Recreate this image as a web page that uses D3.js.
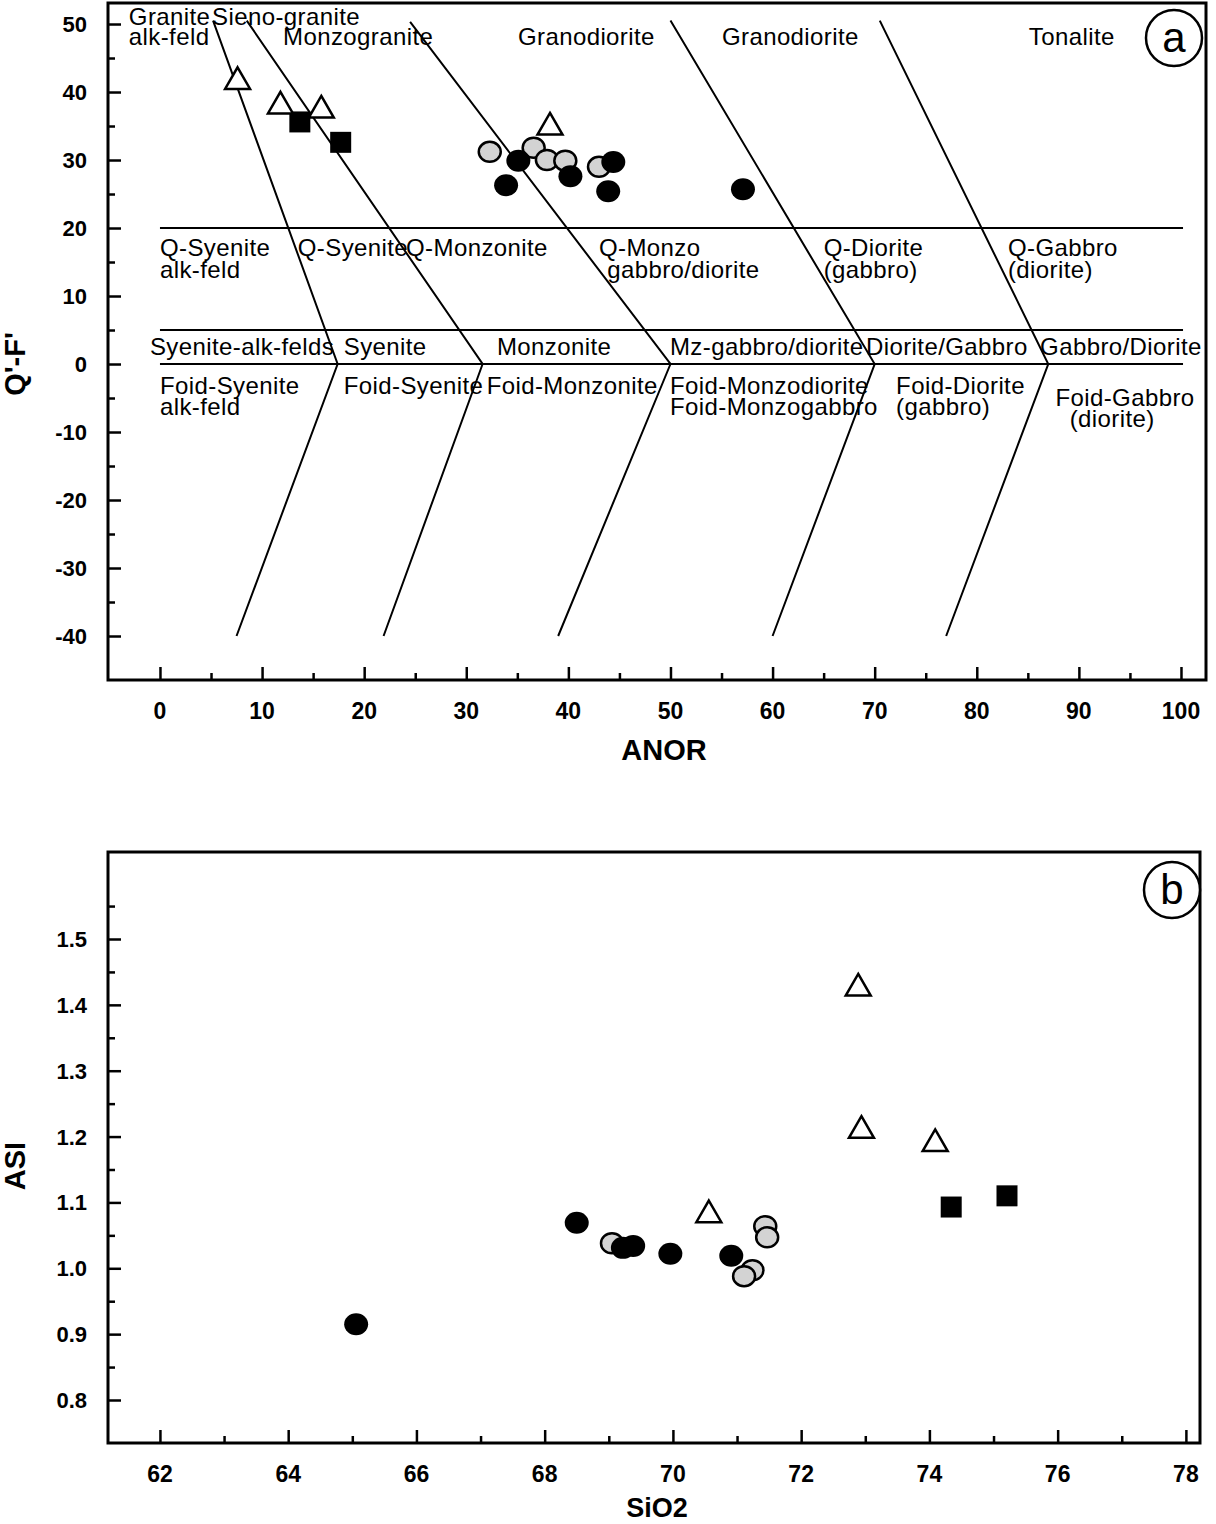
<!DOCTYPE html>
<html>
<head>
<meta charset="utf-8">
<script src="https://cdn.jsdelivr.net/npm/d3@7"></script>
<style>
  body{margin:0;background:#fff;}
  svg{display:block;font-family:"Liberation Sans",Arial,sans-serif;}
</style>
</head>
<body>
<svg id="chart" width="1216" height="1524"></svg>
<script>
// panel a: ANOR vs Q'-F'
var triA = [[7.6,41.8],[11.8,38.2],[15.8,37.6],[38.2,35.1]];
var sqA = [[13.7,35.6],[17.7,32.6]];
var grayA = [[32.3,31.2],[36.6,31.8],[37.9,30.0],[39.7,29.9],[43.0,29.0]];
var blackA = [[33.9,26.3],[35.1,29.9],[40.2,27.6],[43.9,25.4],[44.4,29.7],[57.1,25.7]];

// field boundaries (top, bend, bottom)
var bounds = [
  [[5.2,50.5],[17.4,0],[7.5,-40]],
  [[8.5,50.5],[31.6,0],[21.9,-40]],
  [[24.5,50.3],[50,0],[39,-40]],
  [[50,50.5],[70,0],[60,-40]],
  [[70.5,50.5],[87,0],[77,-40]]
];
var hLines = [20,5,0];

var fieldLabels = [
  [-3.05,49.9,"Granite"],[5.1,49.9,"Sieno-granite"],
  [-3.05,46.9,"alk-feld"],[12.05,46.9,"Monzogranite"],
  [35.06,46.9,"Granodiorite"],[55.04,46.9,"Granodiorite"],[85.1,46.9,"Tonalite"],
  [0,15.9,"Q-Syenite"],[0,12.7,"alk-feld"],[13.5,15.9,"Q-Syenite"],
  [24.1,15.9,"Q-Monzonite"],[43,15.9,"Q-Monzo"],[43.8,12.7,"gabbro/diorite"],
  [65,15.9,"Q-Diorite"],[65,12.7,"(gabbro)"],[83.05,15.9,"Q-Gabbro"],[83.05,12.7,"(diorite)"],
  [-0.98,1.3,"Syenite-alk-felds"],[18,1.3,"Syenite"],[33,1.3,"Monzonite"],
  [49.95,1.3,"Mz-gabbro/diorite"],[69.15,1.3,"Diorite/Gabbro"],[86.2,1.3,"Gabbro/Diorite"],
  [0,-4.4,"Foid-Syenite"],[0,-7.5,"alk-feld"],[18,-4.4,"Foid-Syenite"],
  [32,-4.4,"Foid-Monzonite"],[49.95,-4.4,"Foid-Monzodiorite"],[49.95,-7.5,"Foid-Monzogabbro"],
  [72.1,-4.4,"Foid-Diorite"],[72.1,-7.5,"(gabbro)"],[87.7,-6.2,"Foid-Gabbro"],[89.1,-9.3,"(diorite)"]
];

// panel b: SiO2 vs ASI
var triB = [[70.56,1.084],[72.89,1.428],[72.94,1.212],[74.09,1.192]];
var sqB = [[74.34,1.093],[75.21,1.110]];
var grayB = [[69.05,1.038],[71.44,1.064],[71.47,1.047],[71.24,0.997],[71.11,0.988]];
var blackB = [[65.06,0.915],[68.5,1.069],[69.22,1.031],[69.38,1.034],[69.96,1.022],[70.91,1.019]];

var ticksAx = d3.range(0,101,10), ticksAy = d3.range(-40,51,10);
var ticksBx = d3.range(62,79,2), ticksBy = [0.8,0.9,1.0,1.1,1.2,1.3,1.4,1.5];

var svg = d3.select("#chart");

function panel(box, xDom, yDom, xt, xm, yt, ym, xFmt, yFmt, xTitle, yTitle, tag, opt){
  var g = svg.append("g");
  var x = d3.scaleLinear().domain(xDom).range([box.l, box.r]);
  var y = d3.scaleLinear().domain(yDom).range([box.b, box.t]);

  g.append("rect").attr("x",box.l).attr("y",box.t)
    .attr("width",box.r-box.l).attr("height",box.b-box.t)
    .attr("fill","none").attr("stroke","#000").attr("stroke-width",3);

  var xAxis = d3.axisBottom(x).tickValues(xt).tickSize(-13).tickFormat("");
  var xMin = d3.axisBottom(x).tickValues(xm).tickSize(-7).tickFormat("");
  var yAxis = d3.axisLeft(y).tickValues(yt).tickSize(-13).tickFormat("");
  var yMin = d3.axisLeft(y).tickValues(ym).tickSize(-7).tickFormat("");
  [[xAxis,"translate(0,"+box.b+")"],[xMin,"translate(0,"+box.b+")"],
   [yAxis,"translate("+box.l+",0)"],[yMin,"translate("+box.l+",0)"]].forEach(function(a){
    var ag = g.append("g").attr("transform",a[1]).call(a[0]);
    ag.select(".domain").remove();
    ag.selectAll("line").attr("stroke","#000").attr("stroke-width",2.5);
  });

  g.selectAll(".xl").data(xt).enter().append("text")
    .attr("x",function(d){return x(d);}).attr("y",box.b+39)
    .attr("text-anchor","middle").attr("font-weight","bold").attr("font-size",23)
    .text(xFmt);
  g.selectAll(".yl").data(yt).enter().append("text")
    .attr("x",box.l-21).attr("y",function(d){return y(d)+8;})
    .attr("text-anchor","end").attr("font-weight","bold").attr("font-size",22)
    .text(yFmt);

  g.append("text").attr("x",opt.xtx).attr("y",box.b+opt.xty)
    .attr("text-anchor","middle").attr("font-weight","bold").attr("font-size",opt.xts)
    .text(xTitle);
  g.append("text").attr("transform","translate(25,"+opt.yty+") rotate(-90)")
    .attr("text-anchor","middle").attr("font-weight","bold").attr("font-size",29)
    .text(yTitle);

  g.append("circle").attr("cx",box.r-opt.tagdx).attr("cy",box.t+opt.tagdy).attr("r",28)
    .attr("fill","#fff").attr("stroke","#000").attr("stroke-width",2.5);
  g.append("text").attr("x",box.r-opt.tagdx).attr("y",box.t+opt.tagdy+14).attr("text-anchor","middle")
    .attr("font-size",42).text(tag);

  return {g:g,x:x,y:y};
}

function points(p, tri, sq, gray, black){
  var g = p.g, x = p.x, y = p.y;
  g.selectAll(".gray").data(gray).enter().append("ellipse")
    .attr("cx",function(d){return x(d[0]);}).attr("cy",function(d){return y(d[1]);})
    .attr("rx",11).attr("ry",10).attr("fill","#d3d3d3").attr("stroke","#000").attr("stroke-width",2.5);
  g.selectAll(".black").data(black).enter().append("ellipse")
    .attr("cx",function(d){return x(d[0]);}).attr("cy",function(d){return y(d[1]);})
    .attr("rx",12).attr("ry",11).attr("fill","#000");
  g.selectAll(".sq").data(sq).enter().append("path")
    .attr("transform",function(d){return "translate("+x(d[0])+","+y(d[1])+")";})
    .attr("d",d3.symbol().type(d3.symbolSquare).size(441)).attr("fill","#000");
  g.selectAll(".tri").data(tri).enter().append("path")
    .attr("transform",function(d){return "translate("+x(d[0])+","+(y(d[1])+2)+")";})
    .attr("d",d3.symbol().type(d3.symbolTriangle).size(270))
    .attr("fill","#fff").attr("stroke","#000").attr("stroke-width",2.5);
}

// ---- panel a
var pa = panel({l:108,r:1206,t:3,b:680},[-5.09,102.45],[-46.47,53.09],
  ticksAx, d3.range(5,100,10), ticksAy, d3.range(-35,50,10),
  function(d){return d;}, function(d){return d;}, "ANOR", "Q'-F'", "a",
  {xtx:664, xty:80, xts:29, yty:364, tagdx:32, tagdy:35});

var line = d3.line().x(function(d){return pa.x(d[0]);}).y(function(d){return pa.y(d[1]);});
pa.g.selectAll(".hl").data(hLines).enter().append("line")
  .attr("x1",pa.x(0)).attr("x2",pa.x(100.2))
  .attr("y1",function(d){return pa.y(d);}).attr("y2",function(d){return pa.y(d);})
  .attr("stroke","#000").attr("stroke-width",2);
pa.g.selectAll(".bd").data(bounds).enter().append("path")
  .attr("d",line).attr("fill","none").attr("stroke","#000").attr("stroke-width",2);

pa.g.selectAll(".fl").data(fieldLabels).enter().append("text")
  .attr("x",function(d){return pa.x(d[0]);}).attr("y",function(d){return pa.y(d[1]);})
  .attr("font-size",24).attr("letter-spacing",0.4).text(function(d){return d[2];});

points(pa, triA, sqA, grayA, blackA);

// ---- panel b
var pb = panel({l:108,r:1200,t:852,b:1443},[61.19,78.22],[0.7347,1.6321],
  ticksBx, d3.range(63,78,2), ticksBy, [0.85,0.95,1.05,1.15,1.25,1.35,1.45,1.55],
  function(d){return d;}, function(d){return d.toFixed(1);}, "SiO2", "ASI", "b",
  {xtx:657, xty:74, xts:27, yty:1166, tagdx:28, tagdy:38});

points(pb, triB, sqB, grayB, blackB);
</script>
</body>
</html>
